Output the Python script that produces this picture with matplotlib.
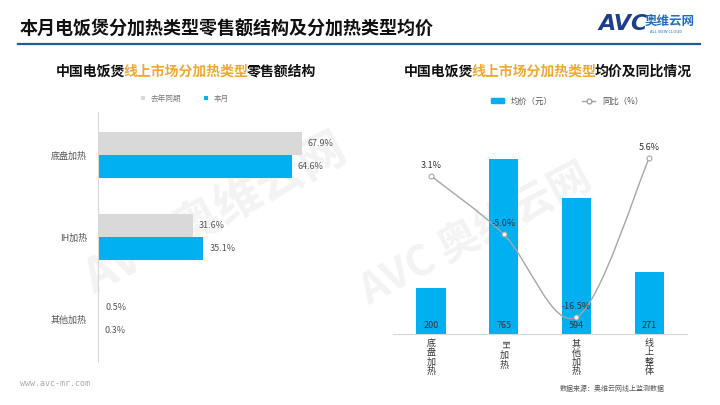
import numpy as np
import matplotlib.pyplot as plt
from matplotlib.path import Path
from matplotlib.patches import PathPatch
from matplotlib.lines import Line2D
from matplotlib.patches import Patch

plt.rcParams['font.family'] = ['Noto Sans CJK SC', 'DejaVu Sans']

# ==================================================
CATS_L   = ["底盘加热", "IH加热", "其他加热"]
PREV     = [67.9, 31.6, 0.5]          # 去年同期
CURR     = [64.6, 35.1, 0.3]          # 本月
CATS_R   = ["底盘加热", "IH加热", "其他加热", "线上整体"]
PRICE    = [200, 765, 594, 271]       # 均价（元）
YOY      = [3.1, -5.0, -16.5, 5.6]    # 同比（%）
BLUE, GREY = "#00B0F0", "#D9D9D9"
ORANGE   = "#F0A830"
W, H = 720, 405
# ==================================================

fig = plt.figure(figsize=(7.2, 4.05), dpi=100)


def fx(px): return px / W
def fy(py): return 1 - py / H


def ax_px(l, t, r, b):
    return fig.add_axes([fx(l), fy(b), (r - l) / W, (b - t) / H])


# watermark (behind everything)
for x, y, s in [(0.30, 0.47, 34), (0.66, 0.42, 30)]:
    fig.text(x, y, "AVC 奥维云网", fontsize=s, color="#F3F3F3", fontweight="bold",
             rotation=28, ha="center", va="center", zorder=-5)

# header
fig.text(fx(20), fy(29), "本月电饭煲分加热类型零售额结构及分加热类型均价",
         fontsize=13, fontweight="bold", color="#111", va="center")
fig.add_artist(Line2D([fx(18), fx(700)], [fy(44), fy(44)], color="#1F5C99", lw=1.6))
fig.text(fx(598), fy(24), "AVC", fontsize=16, fontweight="bold", style="italic",
         color="#1F3D8C", va="center", family="DejaVu Sans")
fig.text(fx(645), fy(21), "奥维云网", fontsize=9, fontweight="bold", color="#1F6FBF", va="center")
fig.text(fx(650), fy(32), "ALL VIEW CLOUD", fontsize=3, color="#1F6FBF", va="center")


def subtitle(xc, y, parts, size=10):
    cw = size * 100 / 72            # full-width CJK glyph advance in px
    x = xc - cw * sum(len(s) for s, _ in parts) / 2
    for s, c in parts:
        fig.text(fx(x), fy(y), s, fontsize=size, fontweight="bold", color=c, va="center")
        x += cw * len(s) - 2


subtitle(188, 72, [("中国电饭煲", "#111"), ("线上市场分加热类型", ORANGE), ("零售额结构", "#111")])
subtitle(550, 72, [("中国电饭煲", "#111"), ("线上市场分加热类型", ORANGE), ("均价及同比情况", "#111")])

# ---------------- left: horizontal bars ----------------
axl = ax_px(98, 112, 398, 362)
yl = np.arange(len(CATS_L))
bh = 0.28
axl.barh(yl - 0.145, PREV, height=bh, color=GREY, label="去年同期")
axl.barh(yl + 0.145, CURR, height=bh, color=BLUE, label="本月")
for i in yl:
    axl.text(PREV[i] + 2, i - 0.145, f"{PREV[i]}%", va="center", fontsize=6.5, color="#555")
    axl.text(CURR[i] + 2, i + 0.145, f"{CURR[i]}%", va="center", fontsize=6.5, color="#555")
axl.set_xlim(0, 100)
axl.set_ylim(2.524, -0.524)
axl.set_yticks(yl, CATS_L, fontsize=6.5, color="#555")
axl.tick_params(axis="y", length=0, pad=8)
axl.set_xticks([])
for s in ["top", "right", "bottom"]:
    axl.spines[s].set_visible(False)
axl.spines["left"].set_color(GREY)
axl.patch.set_alpha(0)
axl.legend(loc="center", bbox_to_anchor=(fx(185), fy(99)), bbox_transform=fig.transFigure,
           ncol=2, frameon=False, fontsize=5.5, handlelength=0.5, handleheight=0.5,
           columnspacing=3, labelcolor="#777")

# ---------------- right: bars + yoy line ----------------
axr = ax_px(393, 140, 687, 334)
xr = np.arange(len(CATS_R))
axr.bar(xr, PRICE, width=0.4, color=BLUE)
for i in xr:
    axr.text(i, 18, f"{PRICE[i]}", ha="center", va="bottom", fontsize=6.5, color="#333")
axr.set_xlim(-0.523, 3.52)
axr.set_ylim(0, 847)
axr.set_xticks([])
axr.set_yticks([])
for s in ["top", "right", "left"]:
    axr.spines[s].set_visible(False)
axr.spines["bottom"].set_color(GREY)
axr.patch.set_alpha(0)

ax2 = axr.twinx()
ax2.set_ylim(-18.84, 8.1)
ax2.axis("off")
# smoothed line (Catmull-Rom -> cubic Bezier) through the data points
pts = np.column_stack([xr, YOY]).astype(float)
verts, codes = [pts[0]], [Path.MOVETO]
for k in range(len(pts) - 1):
    p0 = pts[max(k - 1, 0)]; p1 = pts[k]; p2 = pts[k + 1]; p3 = pts[min(k + 2, len(pts) - 1)]
    verts += [p1 + (p2 - p0) / 6, p2 - (p3 - p1) / 6, p2]
    codes += [Path.CURVE4] * 3
ax2.add_patch(PathPatch(Path(verts, codes), fill=False, ec="#A6A6A6", lw=1))
ax2.plot(xr, YOY, ls="none", marker="o", ms=3.5, mfc="white", mec="#A6A6A6", mew=0.8)
for i in xr:
    ax2.text(i, YOY[i] + 0.9, f"{YOY[i]}%", ha="center", va="bottom", fontsize=6.5, color="#333")

# vertical category labels
for i, c in zip(xr, CATS_R):
    xp = axr.transData.transform((i, 0))[0]
    if c.startswith("IH"):
        fig.text(xp / W, fy(340), "IH", rotation=-90, ha="center", va="top", fontsize=6.5, color="#333")
        fig.text(xp / W, fy(351), "\n".join(c[2:]), ha="center", va="top", fontsize=6.5,
                 color="#333", linespacing=1.05)
    else:
        fig.text(xp / W, fy(339), "\n".join(c), ha="center", va="top", fontsize=6.5,
                 color="#333", linespacing=1.05)

h_bar = Patch(color=BLUE, label="均价（元）")
h_line = Line2D([], [], color="#A6A6A6", lw=1, marker="o", ms=3.5, mfc="white", label="同比（%）")
axr.legend(handles=[h_bar, h_line], loc="center", bbox_to_anchor=(fx(567), fy(101)),
           bbox_transform=fig.transFigure, ncol=2, frameon=False, fontsize=6,
           handlelength=1.6, handleheight=0.4, columnspacing=3.5, labelcolor="#555")

# footer
fig.text(fx(20), fy(384), "www.avc-mr.com", fontsize=6, color="#AAA", va="center",
         family="DejaVu Sans Mono")
fig.text(fx(560), fy(389), "数据来源：奥维云网线上监测数据", fontsize=5, color="#555", va="center")

fig.savefig("out.png", dpi=100)
